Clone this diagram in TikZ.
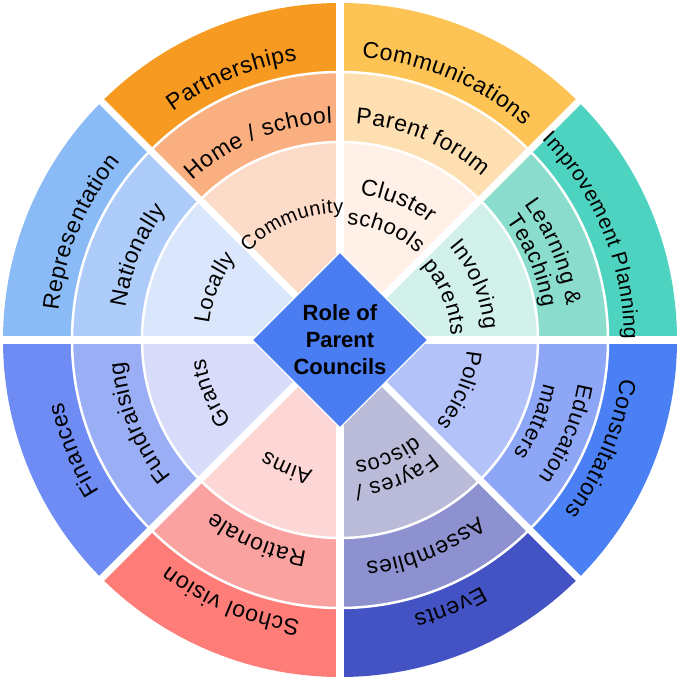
\documentclass[tikz,border=0pt]{standalone}
\usepackage{fontspec}
\setmainfont{Liberation Sans}
\usetikzlibrary{shapes.geometric,decorations.text}
\definecolor{partO}{HTML}{F79A21}\definecolor{partM}{HTML}{F9AF80}\definecolor{partI}{HTML}{FDDBC9}
\definecolor{commO}{HTML}{FDC455}\definecolor{commM}{HTML}{FEDFB1}\definecolor{commI}{HTML}{FFF1E8}
\definecolor{imprO}{HTML}{4ED3C0}\definecolor{imprM}{HTML}{8ADDCD}\definecolor{imprI}{HTML}{D2F1EB}
\definecolor{consO}{HTML}{4A80F3}\definecolor{consM}{HTML}{8DA6F6}\definecolor{consI}{HTML}{B3C2F9}
\definecolor{evO}{HTML}{4453C4}\definecolor{evM}{HTML}{8E91CF}\definecolor{evI}{HTML}{BABBD9}
\definecolor{visO}{HTML}{FE7D79}\definecolor{visM}{HTML}{FAA2A0}\definecolor{visI}{HTML}{FDD6D6}
\definecolor{finO}{HTML}{6E8CF3}\definecolor{finM}{HTML}{9AAEF6}\definecolor{finI}{HTML}{D8DCFA}
\definecolor{repO}{HTML}{8ABBF6}\definecolor{repM}{HTML}{AECCF9}\definecolor{repI}{HTML}{DAE6FC}
\definecolor{hub}{HTML}{4A7CF2}
% #1 font size, #2 mid angle, #3 path radius (pt), #4 text
\newcommand\curvlab[4]{%
  \path[decorate,decoration={text along path,text align=center,
    text={|\fontsize{#1}{#1}\selectfont\kern0.6pt|#4}}]
    (#2+50:#3pt) arc[start angle=#2+50,delta angle=-100,radius=#3pt];}
\tikzset{
  gapline/.style={white,line width=7pt},
  ringline/.style={white,line width=2.5pt},
  hubshape/.style={diamond,shape aspect=1,fill=hub,draw=white,line width=1.2pt,
    minimum width=176pt,minimum height=176pt,inner sep=0pt},
  hubtext/.style={align=center,font=\fontsize{22}{27}\selectfont\bfseries}
}
\begin{document}
\begin{tikzpicture}
\useasboundingbox (-340pt,-340pt) rectangle (340pt,340pt);
\foreach \a/\co/\cm/\ci in {90/partO/partM/partI,45/commO/commM/commI,0/imprO/imprM/imprI,
  315/consO/consM/consI,270/evO/evM/evI,225/visO/visM/visI,180/finO/finM/finI,135/repO/repM/repI}{
  \fill[\co] (0,0) -- (\a:337pt) arc[start angle=\a,delta angle=45,radius=337pt] -- cycle;
  \fill[\cm] (0,0) -- (\a:268pt) arc[start angle=\a,delta angle=45,radius=268pt] -- cycle;
  \fill[\ci] (0,0) -- (\a:198pt) arc[start angle=\a,delta angle=45,radius=198pt] -- cycle;
}
\draw[ringline] (0,0) circle[radius=268pt];
\draw[ringline] (0,0) circle[radius=198pt];
\foreach \a in {0,45,...,315}{\draw[gapline] (0,0) -- (\a:350pt);}
% outer ring
\curvlab{23}{112.5}{283}{Partnerships}
\curvlab{23}{67.5}{283}{Communications}
\curvlab{21}{22.5}{284}{Improvement Planning}
\curvlab{23}{337.5}{283}{Consultations}
\curvlab{23}{292.5}{284}{Events}
\curvlab{23}{247.5}{283}{School vision}
\curvlab{23}{202.5}{284}{Finances}
\curvlab{23}{157.5}{283}{Representation}
% middle ring
\curvlab{23}{112.5}{217}{Home / school}
\curvlab{23}{67.5}{217}{Parent forum}
\curvlab{22}{22.5}{229}{Learning {\&}}
\curvlab{22}{22.5}{205}{Teaching}
\curvlab{22}{337.5}{242}{Education}
\curvlab{22}{337.5}{208}{matters}
\curvlab{23}{292.5}{224}{Assemblies}
\curvlab{23}{247.5}{214}{Rationale}
\curvlab{23}{202.5}{217}{Fundraising}
\curvlab{23}{157.5}{217}{Nationally}
% inner ring
\curvlab{20}{112.5}{127}{Community}
\curvlab{23}{67.5}{147}{Cluster}
\curvlab{22}{67.5}{116}{schools}
\curvlab{22}{22.5}{144}{Involving}
\curvlab{22}{22.5}{111}{parents}
\curvlab{22}{337.5}{127}{Policies}
\curvlab{22}{292.5}{146}{Fayres /}
\curvlab{22}{292.5}{122}{discos}
\curvlab{22}{247.5}{133}{Aims}
\curvlab{22}{202.5}{136}{Grants}
\curvlab{22}{157.5}{132}{Locally}
% hub
\node[hubshape] (hub) at (0,0) {};
\node[hubtext] (title) at (hub.center) {Role of\\Parent\\Councils};
\end{tikzpicture}
\end{document}
